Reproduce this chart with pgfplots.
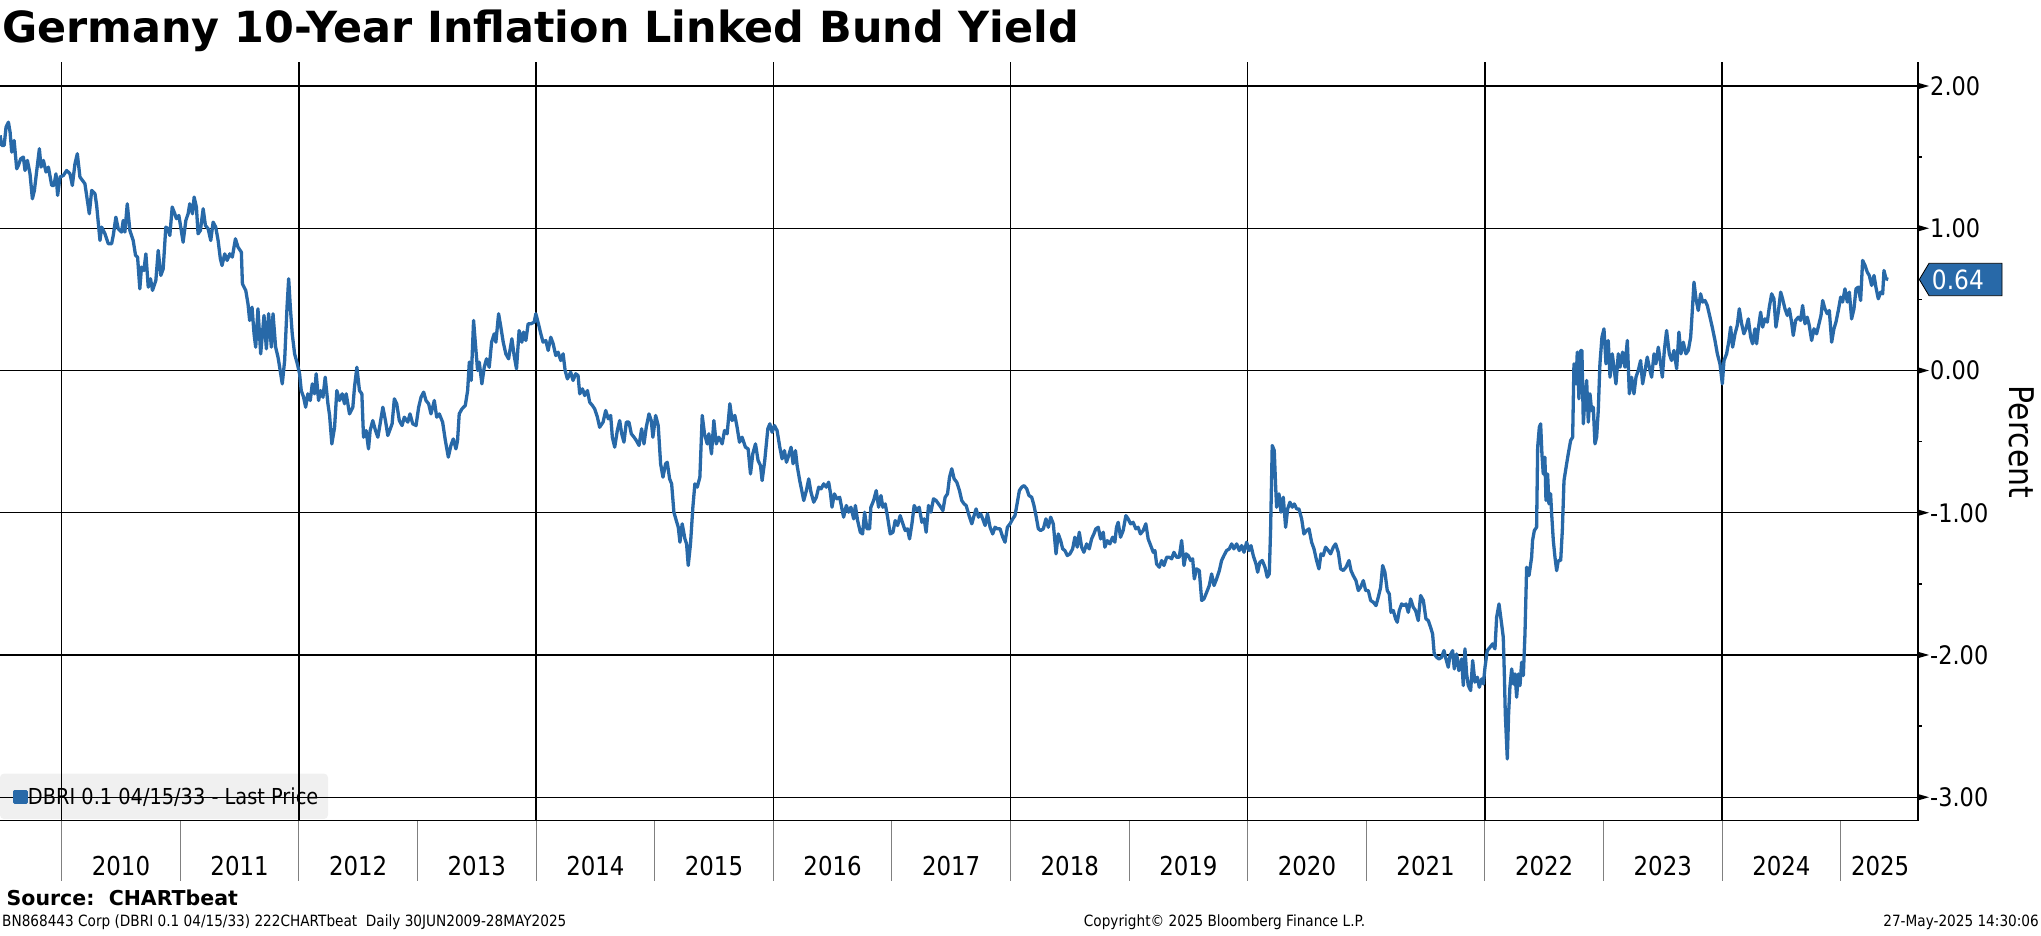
\documentclass[border=0pt]{standalone}
\usepackage{fontspec}
\setmainfont{DejaVu Sans}[FakeStretch=0.88]
\newfontfamily\titlefamily{DejaVu Sans}
\usepackage{pgfplots}
\usepackage{pgfplotstable}
\pgfplotsset{compat=1.18}
\definecolor{bbblue}{RGB}{40,105,168}
\definecolor{leggray}{RGB}{240,240,240}
\definecolor{sepgray}{RGB}{128,128,128}
\newcommand\ticklabfont{\fontsize{25.5}{30}\selectfont}
\newcommand\yearfont{\fontsize{26}{30}\selectfont}
\newcommand\legfont{\fontsize{22}{26}\selectfont}
\newcommand\footfont{\fontsize{15.5}{18}\selectfont}

\pgfplotstableread{
year value
2009.481 1.653
2009.495 1.582
2009.515 1.582
2009.531 1.711
2009.551 1.746
2009.565 1.676
2009.579 1.535
2009.599 1.617
2009.621 1.418
2009.635 1.442
2009.655 1.489
2009.677 1.500
2009.691 1.406
2009.711 1.477
2009.733 1.383
2009.753 1.207
2009.770 1.266
2009.790 1.406
2009.812 1.559
2009.826 1.430
2009.846 1.477
2009.868 1.395
2009.888 1.430
2009.916 1.301
2009.935 1.301
2009.952 1.383
2009.966 1.231
2009.986 1.360
2010.014 1.371
2010.042 1.406
2010.070 1.383
2010.090 1.301
2010.112 1.453
2010.132 1.524
2010.154 1.360
2010.196 1.313
2010.233 1.102
2010.253 1.266
2010.281 1.242
2010.295 1.160
2010.323 0.914
2010.337 1.008
2010.365 0.961
2010.393 0.891
2010.421 0.891
2010.435 0.949
2010.457 1.078
2010.477 0.996
2010.505 0.973
2010.519 1.055
2010.533 0.973
2010.553 1.172
2010.575 0.985
2010.603 0.914
2010.623 0.809
2010.640 0.797
2010.659 0.574
2010.673 0.727
2010.693 0.703
2010.710 0.820
2010.730 0.586
2010.749 0.645
2010.766 0.563
2010.794 0.633
2010.814 0.844
2010.836 0.668
2010.856 0.715
2010.878 1.008
2010.898 0.996
2010.912 0.949
2010.932 1.149
2010.954 1.102
2010.968 1.067
2010.988 1.090
2011.004 1.008
2011.024 0.902
2011.047 1.055
2011.066 1.102
2011.080 1.172
2011.103 1.102
2011.117 1.219
2011.136 1.149
2011.150 0.961
2011.170 0.985
2011.193 1.137
2011.212 1.020
2011.235 0.996
2011.257 0.914
2011.277 1.043
2011.299 1.008
2011.319 0.914
2011.338 0.785
2011.352 0.738
2011.375 0.820
2011.395 0.774
2011.417 0.820
2011.439 0.797
2011.465 0.926
2011.487 0.867
2011.515 0.832
2011.524 0.609
2011.552 0.563
2011.571 0.469
2011.585 0.352
2011.605 0.445
2011.622 0.258
2011.636 0.164
2011.655 0.434
2011.678 0.117
2011.706 0.387
2011.726 0.152
2011.745 0.399
2011.768 0.164
2011.782 0.399
2011.804 0.164
2011.824 0.094
2011.838 0.023
2011.860 -0.094
2011.880 0.070
2011.900 0.445
2011.914 0.645
2011.928 0.445
2011.944 0.258
2011.964 0.117
2011.987 0.047
2012.006 -0.023
2012.020 -0.141
2012.040 -0.188
2012.057 -0.258
2012.076 -0.164
2012.096 -0.211
2012.113 -0.094
2012.132 -0.164
2012.146 -0.023
2012.166 -0.211
2012.183 -0.141
2012.203 -0.188
2012.222 -0.047
2012.245 -0.234
2012.259 -0.316
2012.278 -0.516
2012.301 -0.399
2012.320 -0.141
2012.343 -0.211
2012.365 -0.164
2012.385 -0.234
2012.399 -0.164
2012.427 -0.305
2012.455 -0.258
2012.469 -0.117
2012.489 0.023
2012.511 -0.141
2012.531 -0.164
2012.545 -0.469
2012.567 -0.422
2012.587 -0.551
2012.601 -0.422
2012.623 -0.352
2012.646 -0.422
2012.666 -0.469
2012.685 -0.375
2012.708 -0.258
2012.730 -0.352
2012.750 -0.457
2012.786 -0.375
2012.805 -0.199
2012.825 -0.234
2012.847 -0.352
2012.870 -0.387
2012.889 -0.328
2012.918 -0.363
2012.937 -0.305
2012.960 -0.375
2012.988 -0.387
2013.010 -0.258
2013.030 -0.188
2013.052 -0.152
2013.072 -0.211
2013.094 -0.234
2013.114 -0.305
2013.142 -0.211
2013.162 -0.328
2013.184 -0.305
2013.212 -0.363
2013.235 -0.492
2013.260 -0.609
2013.282 -0.527
2013.302 -0.481
2013.324 -0.551
2013.338 -0.492
2013.352 -0.305
2013.375 -0.270
2013.403 -0.246
2013.423 -0.141
2013.437 0.059
2013.453 -0.070
2013.473 0.352
2013.493 0.141
2013.507 0.000
2013.521 0.059
2013.543 -0.094
2013.563 0.023
2013.582 0.082
2013.605 0.023
2013.625 0.199
2013.647 0.258
2013.661 0.199
2013.684 0.399
2013.703 0.305
2013.723 0.199
2013.745 0.117
2013.768 0.082
2013.796 0.223
2013.815 0.105
2013.835 0.012
2013.857 0.281
2013.880 0.199
2013.894 0.270
2013.914 0.211
2013.933 0.328
2013.956 0.328
2013.984 0.340
2013.998 0.399
2014.020 0.328
2014.040 0.258
2014.059 0.199
2014.082 0.211
2014.102 0.141
2014.124 0.234
2014.144 0.188
2014.166 0.105
2014.186 0.129
2014.208 0.070
2014.228 0.117
2014.245 0.000
2014.264 -0.059
2014.292 -0.012
2014.312 -0.070
2014.334 -0.023
2014.354 -0.035
2014.368 -0.164
2014.391 -0.129
2014.410 -0.176
2014.433 -0.141
2014.452 -0.223
2014.475 -0.246
2014.494 -0.270
2014.517 -0.328
2014.536 -0.399
2014.565 -0.363
2014.587 -0.281
2014.609 -0.340
2014.629 -0.316
2014.643 -0.469
2014.663 -0.539
2014.685 -0.422
2014.705 -0.352
2014.722 -0.445
2014.741 -0.504
2014.761 -0.363
2014.783 -0.363
2014.803 -0.445
2014.826 -0.469
2014.845 -0.492
2014.868 -0.527
2014.890 -0.410
2014.910 -0.516
2014.929 -0.399
2014.952 -0.305
2014.971 -0.352
2014.985 -0.469
2015.008 -0.316
2015.030 -0.387
2015.050 -0.656
2015.070 -0.750
2015.092 -0.656
2015.106 -0.645
2015.126 -0.762
2015.143 -0.797
2015.162 -0.996
2015.182 -1.055
2015.199 -1.102
2015.213 -1.207
2015.232 -1.078
2015.255 -1.184
2015.269 -1.219
2015.283 -1.371
2015.302 -1.219
2015.322 -0.961
2015.339 -0.797
2015.359 -0.820
2015.381 -0.750
2015.401 -0.316
2015.420 -0.445
2015.443 -0.516
2015.457 -0.445
2015.479 -0.586
2015.499 -0.352
2015.519 -0.516
2015.541 -0.469
2015.569 -0.516
2015.589 -0.422
2015.611 -0.445
2015.634 -0.234
2015.653 -0.352
2015.676 -0.316
2015.695 -0.399
2015.715 -0.504
2015.737 -0.469
2015.765 -0.539
2015.788 -0.551
2015.808 -0.727
2015.827 -0.586
2015.850 -0.516
2015.872 -0.633
2015.892 -0.668
2015.906 -0.774
2015.928 -0.633
2015.954 -0.410
2015.971 -0.375
2015.990 -0.434
2016.010 -0.387
2016.032 -0.422
2016.055 -0.539
2016.074 -0.621
2016.094 -0.563
2016.111 -0.645
2016.130 -0.598
2016.150 -0.539
2016.167 -0.656
2016.187 -0.563
2016.201 -0.668
2016.223 -0.774
2016.243 -0.856
2016.257 -0.914
2016.279 -0.844
2016.299 -0.762
2016.318 -0.856
2016.341 -0.926
2016.363 -0.891
2016.383 -0.820
2016.403 -0.832
2016.425 -0.797
2016.447 -0.820
2016.467 -0.785
2016.481 -0.856
2016.495 -0.961
2016.515 -0.867
2016.537 -0.902
2016.560 -0.891
2016.579 -0.973
2016.593 -1.031
2016.616 -0.949
2016.635 -0.996
2016.655 -0.961
2016.678 -1.043
2016.692 -0.949
2016.711 -1.055
2016.734 -1.137
2016.753 -1.149
2016.770 -0.996
2016.790 -1.113
2016.812 -1.113
2016.823 -0.961
2016.846 -0.914
2016.868 -0.844
2016.888 -0.961
2016.908 -0.879
2016.924 -0.961
2016.944 -0.938
2016.964 -1.031
2016.986 -1.149
2017.009 -1.137
2017.028 -1.055
2017.048 -1.090
2017.070 -1.020
2017.093 -1.078
2017.112 -1.125
2017.132 -1.113
2017.149 -1.184
2017.169 -1.078
2017.188 -0.949
2017.211 -0.985
2017.230 -0.961
2017.253 -1.067
2017.272 -1.043
2017.289 -1.137
2017.309 -0.949
2017.329 -0.996
2017.351 -0.902
2017.373 -0.914
2017.393 -0.938
2017.413 -0.961
2017.430 -0.985
2017.449 -0.891
2017.469 -0.867
2017.486 -0.750
2017.505 -0.691
2017.525 -0.762
2017.547 -0.785
2017.570 -0.844
2017.589 -0.914
2017.609 -0.938
2017.626 -0.949
2017.651 -1.020
2017.674 -1.078
2017.693 -1.020
2017.710 -0.973
2017.730 -1.031
2017.749 -1.008
2017.766 -1.043
2017.786 -1.090
2017.806 -1.008
2017.828 -1.102
2017.850 -1.149
2017.870 -1.102
2017.890 -1.113
2017.912 -1.113
2017.935 -1.172
2017.954 -1.207
2017.974 -1.102
2017.996 -1.078
2018.019 -1.043
2018.038 -1.020
2018.058 -0.926
2018.075 -0.844
2018.095 -0.820
2018.114 -0.809
2018.137 -0.832
2018.156 -0.879
2018.179 -0.891
2018.198 -0.949
2018.215 -1.020
2018.235 -1.113
2018.254 -1.125
2018.277 -1.113
2018.299 -1.043
2018.319 -1.102
2018.339 -1.031
2018.361 -1.078
2018.384 -1.289
2018.403 -1.149
2018.423 -1.196
2018.440 -1.254
2018.459 -1.266
2018.479 -1.301
2018.501 -1.289
2018.524 -1.254
2018.543 -1.172
2018.563 -1.242
2018.580 -1.137
2018.600 -1.242
2018.619 -1.278
2018.642 -1.219
2018.664 -1.254
2018.684 -1.184
2018.703 -1.149
2018.720 -1.113
2018.740 -1.102
2018.760 -1.184
2018.782 -1.137
2018.796 -1.242
2018.816 -1.196
2018.838 -1.219
2018.861 -1.172
2018.880 -1.207
2018.894 -1.102
2018.908 -1.067
2018.928 -1.172
2018.950 -1.125
2018.973 -1.020
2018.992 -1.043
2019.012 -1.078
2019.034 -1.067
2019.057 -1.113
2019.076 -1.102
2019.096 -1.149
2019.119 -1.125
2019.141 -1.078
2019.161 -1.184
2019.204 -1.278
2019.218 -1.266
2019.232 -1.360
2019.255 -1.383
2019.274 -1.336
2019.294 -1.371
2019.317 -1.313
2019.339 -1.313
2019.359 -1.324
2019.378 -1.278
2019.401 -1.313
2019.423 -1.313
2019.443 -1.195
2019.463 -1.371
2019.480 -1.289
2019.499 -1.301
2019.519 -1.336
2019.536 -1.324
2019.550 -1.465
2019.569 -1.395
2019.592 -1.406
2019.612 -1.617
2019.631 -1.606
2019.654 -1.559
2019.676 -1.512
2019.696 -1.430
2019.716 -1.512
2019.738 -1.465
2019.761 -1.406
2019.780 -1.336
2019.800 -1.301
2019.822 -1.266
2019.845 -1.254
2019.865 -1.219
2019.884 -1.254
2019.907 -1.219
2019.929 -1.266
2019.949 -1.231
2019.969 -1.278
2019.991 -1.207
2020.011 -1.266
2020.028 -1.231
2020.047 -1.301
2020.070 -1.360
2020.084 -1.418
2020.103 -1.348
2020.123 -1.336
2020.146 -1.383
2020.165 -1.453
2020.182 -1.430
2020.193 -1.125
2020.207 -0.527
2020.224 -0.563
2020.236 -0.820
2020.244 -0.961
2020.264 -0.867
2020.281 -0.996
2020.300 -0.891
2020.320 -1.102
2020.337 -0.973
2020.356 -0.926
2020.376 -0.961
2020.393 -0.938
2020.413 -0.973
2020.432 -0.973
2020.455 -1.043
2020.474 -1.149
2020.497 -1.125
2020.517 -1.113
2020.539 -1.207
2020.559 -1.254
2020.581 -1.336
2020.601 -1.395
2020.618 -1.289
2020.637 -1.301
2020.657 -1.242
2020.680 -1.266
2020.699 -1.289
2020.722 -1.242
2020.741 -1.219
2020.764 -1.278
2020.784 -1.395
2020.806 -1.406
2020.829 -1.383
2020.854 -1.336
2020.871 -1.406
2020.890 -1.442
2020.913 -1.477
2020.933 -1.547
2020.952 -1.524
2020.975 -1.477
2020.995 -1.547
2021.017 -1.547
2021.037 -1.617
2021.059 -1.629
2021.082 -1.653
2021.101 -1.594
2021.121 -1.524
2021.138 -1.371
2021.157 -1.418
2021.177 -1.547
2021.194 -1.571
2021.208 -1.700
2021.228 -1.688
2021.247 -1.746
2021.261 -1.770
2021.278 -1.688
2021.298 -1.641
2021.318 -1.653
2021.335 -1.641
2021.354 -1.700
2021.374 -1.606
2021.396 -1.664
2021.416 -1.688
2021.438 -1.758
2021.458 -1.582
2021.481 -1.617
2021.503 -1.746
2021.523 -1.758
2021.542 -1.805
2021.559 -1.852
2021.573 -1.993
2021.593 -2.016
2021.613 -2.028
2021.635 -2.016
2021.655 -1.969
2021.672 -2.028
2021.691 -2.086
2021.706 -2.004
2021.728 -1.969
2021.742 -2.098
2021.762 -1.993
2021.781 -2.110
2021.804 -2.028
2021.818 -2.215
2021.832 -1.957
2021.846 -2.133
2021.860 -2.215
2021.880 -2.250
2021.897 -2.039
2021.916 -2.191
2021.936 -2.156
2021.953 -2.227
2021.973 -2.168
2021.987 -2.203
2022.001 -2.086
2022.020 -1.969
2022.043 -1.946
2022.065 -1.922
2022.085 -1.957
2022.099 -1.735
2022.119 -1.641
2022.141 -1.782
2022.155 -1.875
2022.164 -2.133
2022.172 -2.414
2022.189 -2.731
2022.200 -2.414
2022.211 -2.227
2022.226 -2.098
2022.240 -2.204
2022.254 -2.133
2022.268 -2.297
2022.282 -2.133
2022.296 -2.215
2022.310 -2.051
2022.324 -2.145
2022.338 -1.852
2022.352 -1.383
2022.372 -1.442
2022.394 -1.313
2022.402 -1.195
2022.417 -1.125
2022.436 -1.102
2022.445 -0.539
2022.459 -0.399
2022.470 -0.375
2022.481 -0.586
2022.492 -0.727
2022.506 -0.609
2022.515 -0.914
2022.529 -0.727
2022.540 -0.938
2022.554 -0.867
2022.563 -1.008
2022.577 -1.196
2022.591 -1.313
2022.605 -1.407
2022.619 -1.336
2022.639 -1.336
2022.653 -1.125
2022.667 -0.774
2022.689 -0.657
2022.703 -0.586
2022.723 -0.492
2022.740 -0.469
2022.751 0.047
2022.768 -0.094
2022.779 0.129
2022.793 -0.199
2022.807 0.141
2022.818 0.141
2022.830 -0.375
2022.844 -0.188
2022.858 -0.070
2022.872 -0.363
2022.886 -0.164
2022.900 -0.281
2022.914 -0.258
2022.928 -0.516
2022.942 -0.469
2022.956 -0.281
2022.970 0.047
2022.987 0.234
2023.004 0.293
2023.021 0.047
2023.040 0.211
2023.055 -0.047
2023.074 0.117
2023.088 0.023
2023.105 -0.094
2023.125 0.117
2023.139 0.023
2023.161 0.129
2023.181 0.023
2023.201 0.211
2023.218 -0.164
2023.237 -0.047
2023.257 -0.164
2023.274 -0.047
2023.293 0.000
2023.313 0.070
2023.330 -0.094
2023.350 0.000
2023.369 0.094
2023.392 0.000
2023.406 -0.047
2023.426 0.117
2023.442 0.047
2023.462 0.164
2023.482 0.047
2023.496 -0.047
2023.513 0.141
2023.532 0.281
2023.555 0.117
2023.574 0.070
2023.594 0.141
2023.617 0.012
2023.636 0.270
2023.653 0.117
2023.673 0.199
2023.695 0.117
2023.715 0.141
2023.735 0.234
2023.749 0.422
2023.763 0.621
2023.780 0.504
2023.799 0.422
2023.819 0.539
2023.836 0.481
2023.856 0.492
2023.875 0.457
2023.898 0.375
2023.920 0.293
2023.940 0.211
2023.960 0.117
2023.982 0.047
2024.002 -0.094
2024.016 0.070
2024.038 0.117
2024.058 0.211
2024.072 0.305
2024.089 0.164
2024.109 0.258
2024.128 0.317
2024.145 0.434
2024.165 0.328
2024.184 0.258
2024.201 0.293
2024.221 0.363
2024.241 0.234
2024.257 0.188
2024.277 0.293
2024.291 0.188
2024.305 0.293
2024.325 0.410
2024.342 0.305
2024.361 0.363
2024.381 0.340
2024.398 0.445
2024.418 0.539
2024.437 0.504
2024.454 0.305
2024.474 0.410
2024.494 0.551
2024.510 0.504
2024.530 0.434
2024.550 0.387
2024.567 0.434
2024.586 0.340
2024.600 0.246
2024.620 0.352
2024.643 0.375
2024.662 0.352
2024.679 0.457
2024.699 0.328
2024.718 0.375
2024.735 0.317
2024.755 0.211
2024.775 0.293
2024.797 0.258
2024.817 0.328
2024.834 0.387
2024.848 0.492
2024.867 0.434
2024.887 0.399
2024.904 0.422
2024.924 0.199
2024.943 0.293
2024.960 0.340
2024.980 0.422
2025.000 0.516
2025.016 0.481
2025.036 0.574
2025.056 0.481
2025.073 0.551
2025.092 0.363
2025.112 0.434
2025.129 0.574
2025.148 0.586
2025.168 0.492
2025.185 0.774
2025.205 0.739
2025.224 0.692
2025.241 0.668
2025.261 0.598
2025.281 0.668
2025.297 0.586
2025.317 0.504
2025.337 0.551
2025.354 0.539
2025.365 0.703
2025.382 0.645
2025.401 0.640
}\yielddata

\begin{document}
\begin{tikzpicture}[x=1pt,y=1pt]
% legend background (drawn beneath the grid)
\fill[leggray, rounded corners=4pt] (0,117) rectangle (328,162.4);
\begin{axis}[
  at={(0pt,115.3pt)}, anchor=south west,
  scale only axis, width=1918pt, height=759pt,
  xmin=2009.48, xmax=2025.652, ymin=-3.165, ymax=2.171,
  clip=false,
  axis x line*=bottom, axis y line*=right,
  axis line style={line width=1.3pt, black},
  tick align=outside,
  major tick length=0pt, minor tick length=60pt,
  xtick={2010.5,2011.5,2012.5,2013.5,2014.5,2015.5,2016.5,2017.5,2018.5,2019.5,2020.5,2021.5,2022.5,2023.5,2024.5,2025.333},
  xticklabels={2010,2011,2012,2013,2014,2015,2016,2017,2018,2019,2020,2021,2022,2023,2024,2025},
  minor xtick={2010,2011,2012,2013,2014,2015,2016,2017,2018,2019,2020,2021,2022,2023,2024,2025},
  minor tick style={sepgray, line width=1pt},
  extra x ticks={2010,2012,2014,2016,2018,2020,2022,2024},
  extra x tick labels={},
  extra x tick style={grid=major},
  ytick={-3,-2,-1,0,1,2},
  yticklabels={-3.00,-2.00,-1.00,0.00,1.00,2.00},
  ymajorgrids=true,
  major tick style={black, line width=1.3pt},
  major grid style={black, line width=1.3pt},
  xticklabel style={font=\yearfont, anchor=center, yshift=-45.3pt},
  yticklabel style={font=\ticklabfont, anchor=west, inner sep=0pt, xshift=12pt},
  ylabel={Percent},
  every axis y label/.style={at={(rel axis cs:1,0.499)}, xshift=104pt, rotate=-90, anchor=center, font=\fontsize{34}{40}\selectfont},
  legend style={at={(0,0.0308)}, anchor=west, draw=none, fill=none, inner sep=0pt,
    nodes={inner sep=0pt}, font=\legfont,
    /tikz/every even column/.append style={column sep=4.5pt}},
  legend image code/.code={\path (-13pt,0pt); \fill[bbblue] (0pt,-5.5pt) rectangle (11.5pt,5.5pt);},
]
\addplot[bbblue, line width=3.3pt, line join=round, no markers] table[x=year, y=value] {\yielddata};
\addlegendentry{DBRI 0.1 04/15/33 - Last Price}
% right-hand tick marks: triangles at labelled values, short ticks between
\pgfplotsinvokeforeach{-3,-2,-1,0,1,2}{
  \fill[black] ([yshift=3.2pt]axis cs:2025.652,#1) -- ([xshift=11pt]axis cs:2025.652,#1) -- ([yshift=-3.2pt]axis cs:2025.652,#1) -- cycle;
}
\pgfplotsinvokeforeach{-2.5,-1.5,-0.5,0.5,1.5}{
  \draw[black, line width=1.3pt] (axis cs:2025.652,#1) -- ([xshift=4pt]axis cs:2025.652,#1);
}
% last price tag
\filldraw[fill=bbblue, draw=black, line width=0.8pt] ([xshift=1.3pt]axis cs:2025.652,0.64) -- ++(9.7pt,16.2pt) -- ++(73pt,0pt) -- ++(0pt,-32.4pt) -- ++(-73pt,0pt) -- cycle;
\node[anchor=west, inner sep=0pt, text=white, font=\fontsize{26.5}{30}\selectfont] at ([xshift=13.7pt]axis cs:2025.652,0.64) {0.64};
\end{axis}
% title and footer
\node[anchor=base west, inner sep=0pt] at (2,893) {\titlefamily\bfseries\fontsize{42.9}{50}\selectfont Germany 10-Year Inflation Linked Bund Yield};
\node[anchor=base west, inner sep=0pt] at (6.5,30) {\titlefamily\bfseries\fontsize{20.5}{24}\selectfont Source:\ \ CHARTbeat};
\node[anchor=base west, inner sep=0pt, font=\footfont] at (2,9) {BN868443 Corp (DBRI 0.1 04/15/33) 222CHARTbeat\ \ Daily 30JUN2009-28MAY2025};
\node[anchor=base, inner sep=0pt, font=\footfont] at (1224.5,9) {Copyright\textcopyright{} 2025 Bloomberg Finance L.P.};
\node[anchor=base east, inner sep=0pt, font=\footfont] at (2039,9) {27-May-2025 14:30:06};
\pgfresetboundingbox
\path[use as bounding box] (0,0) rectangle (2041,936);
\end{tikzpicture}
\end{document}
